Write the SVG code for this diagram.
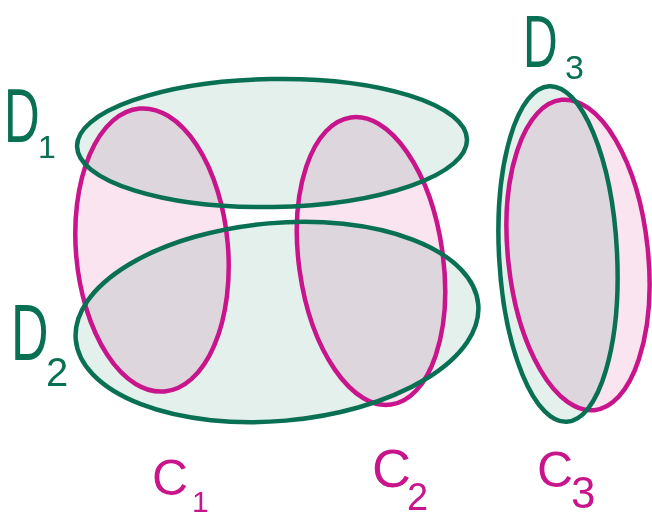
<svg xmlns="http://www.w3.org/2000/svg" width="652" height="521" viewBox="0 0 652 521">
<style>
.cf{fill:#f9e4f0;stroke:none;mix-blend-mode:multiply}
.df{fill:#e3f0eb;stroke:none;mix-blend-mode:multiply}
.cs{fill:none;stroke:#c8158b;stroke-width:4.5}
.ds{fill:none;stroke:#0a7054;stroke-width:4.5}
.dl{fill:#0a7054;font-family:"Liberation Sans",Arial,sans-serif}
.cl{fill:#c8158b;font-family:"Liberation Sans",Arial,sans-serif}
</style>
<rect width="652" height="521" fill="#ffffff"/>
<g id="fills">
<ellipse class="cf" cx="152" cy="250" rx="76" ry="142" transform="rotate(-5 152 250)"/>
<ellipse class="cf" cx="371" cy="261" rx="72" ry="145" transform="rotate(-8 371 261)"/>
<ellipse class="cf" cx="578" cy="255" rx="70" ry="156" transform="rotate(-6 578 255)"/>
<ellipse class="df" cx="272" cy="143" rx="195" ry="64" transform="rotate(-1 272 143)"/>
<ellipse class="df" cx="277" cy="322" rx="202" ry="99" transform="rotate(-5 277 322)"/>
<ellipse class="df" cx="558" cy="254" rx="59" ry="168" transform="rotate(-3 558 254)"/>
</g>
<g id="C1">
<ellipse class="cs" cx="152" cy="250" rx="76" ry="142" transform="rotate(-5 152 250)"/>
<text class="cl" transform="translate(152 495)" font-size="50">C</text>
<text class="cl" x="192" y="512" font-size="30">1</text>
</g>
<g id="C2">
<ellipse class="cs" cx="371" cy="261" rx="72" ry="145" transform="rotate(-8 371 261)"/>
<text class="cl" x="372" y="487" font-size="54">C</text>
<text class="cl" x="407" y="510" font-size="38">2</text>
</g>
<g id="C3">
<ellipse class="cs" cx="578" cy="255" rx="70" ry="156" transform="rotate(-6 578 255)"/>
<text class="cl" x="537" y="487" font-size="50">C</text>
<text class="cl" x="571" y="508" font-size="44">3</text>
</g>
<g id="D1">
<ellipse class="ds" cx="272" cy="143" rx="195" ry="64" transform="rotate(-1 272 143)"/>
<text class="dl" transform="translate(4 142) scale(0.65 1)" font-size="76">D</text>
<text class="dl" x="38" y="158" font-size="32">1</text>
</g>
<g id="D2">
<ellipse class="ds" cx="277" cy="322" rx="202" ry="99" transform="rotate(-5 277 322)"/>
<text class="dl" transform="translate(11 360) scale(0.65 1)" font-size="80">D</text>
<text class="dl" x="46" y="386" font-size="40">2</text>
</g>
<g id="D3">
<ellipse class="ds" cx="558" cy="254" rx="59" ry="168" transform="rotate(-3 558 254)"/>
<text class="dl" transform="translate(523 67) scale(0.65 1)" font-size="74">D</text>
<text class="dl" x="565" y="79" font-size="34">3</text>
</g>
<g id="connectors"/>
</svg>
